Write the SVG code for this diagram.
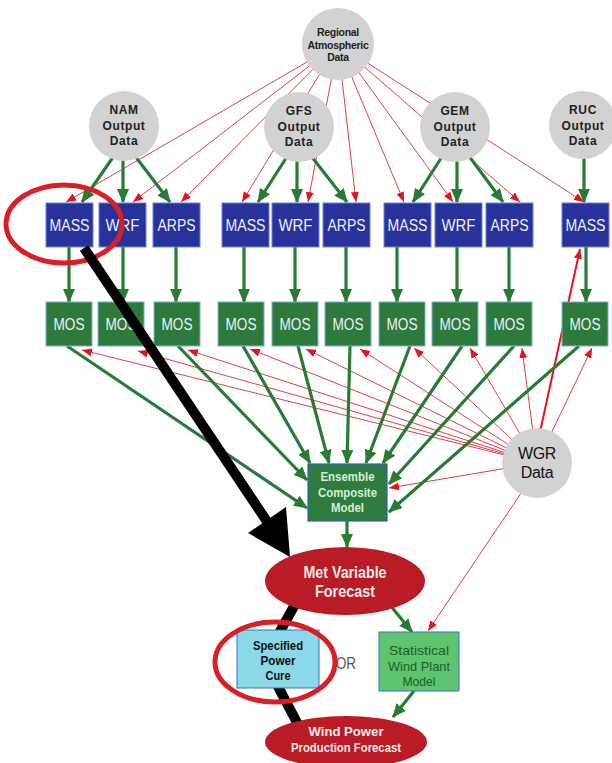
<svg xmlns="http://www.w3.org/2000/svg" width="612" height="763" viewBox="0 0 612 763">
<style>
.g{stroke:#2a7a35;stroke-width:3.2;fill:none;marker-end:url(#ga)}
.r{stroke:#e0404a;stroke-width:1;fill:none;marker-end:url(#ra)}
.circ{fill:#d2d2d2}
.blue{fill:#27339b;stroke:#6a80d8;stroke-width:1}
.mos{fill:#2d7a3c;stroke:#7ab0d0;stroke-width:1}
.bt{font-family:"Liberation Sans",Arial,sans-serif;font-size:17px;fill:#eef0f8;text-anchor:middle}
.bb{font-size:16px}
.ct{font-family:"Liberation Sans",Arial,sans-serif;font-size:12px;font-weight:bold;fill:#222;text-anchor:middle}
.rt{font-family:"Liberation Sans",Arial,sans-serif;font-size:10.5px;font-weight:bold;fill:#222;text-anchor:middle}
.wt{font-family:"Liberation Sans",Arial,sans-serif;font-size:16px;fill:#111;text-anchor:middle}
.et{font-family:"Liberation Sans",Arial,sans-serif;font-size:12.5px;font-weight:bold;fill:#d8ecd8;text-anchor:middle}
.mt{font-family:"Liberation Sans",Arial,sans-serif;font-weight:bold;fill:#f8eaea;text-anchor:middle}
.st{font-family:"Liberation Sans",Arial,sans-serif;font-size:13px;font-weight:bold;fill:#111;text-anchor:middle}
.gt{font-family:"Liberation Sans",Arial,sans-serif;font-size:13px;fill:#1d5e2a;text-anchor:middle}
.ann{fill:none;stroke:#d91e26;stroke-width:5}
</style>
<defs>
<marker id="ga" viewBox="0 0 14 12" refX="13" refY="6" markerWidth="14" markerHeight="12" markerUnits="userSpaceOnUse" orient="auto"><path d="M0,0 L14,6 L0,12 z" fill="#2a7a35"/></marker>
<marker id="ra" viewBox="0 0 10 8" refX="10" refY="4" markerWidth="10" markerHeight="8" markerUnits="userSpaceOnUse" orient="auto"><path d="M0,0 L10,4 L0,8 z" fill="#e8121a"/></marker>
</defs>
<rect width="612" height="763" fill="#ffffff"/>
<g id="connectors">
<line class="r" x1="338" y1="44" x2="66" y2="202"/>
<line class="r" x1="338" y1="44" x2="133" y2="202"/>
<line class="r" x1="338" y1="44" x2="181" y2="202"/>
<line class="r" x1="338" y1="44" x2="242" y2="202"/>
<line class="r" x1="338" y1="44" x2="308" y2="202"/>
<line class="r" x1="338" y1="44" x2="356" y2="202"/>
<line class="r" x1="338" y1="44" x2="404" y2="202"/>
<line class="r" x1="338" y1="44" x2="453" y2="202"/>
<line class="r" x1="338" y1="44" x2="520" y2="202"/>
<line class="r" x1="338" y1="44" x2="584" y2="202"/>
<line class="g" x1="118" y1="150" x2="82" y2="202"/>
<line class="g" x1="123" y1="155" x2="123" y2="202"/>
<line class="g" x1="132" y1="152" x2="170" y2="202"/>
<line class="g" x1="290" y1="152" x2="258" y2="202"/>
<line class="g" x1="297" y1="155" x2="297" y2="202"/>
<line class="g" x1="308" y1="152" x2="347" y2="202"/>
<line class="g" x1="445" y1="152" x2="413" y2="202"/>
<line class="g" x1="457" y1="156" x2="457" y2="202"/>
<line class="g" x1="466" y1="152" x2="503" y2="202"/>
<line class="g" x1="584" y1="152" x2="584" y2="202"/>
<line class="g" x1="69" y1="247" x2="69" y2="302"/>
<line class="g" x1="123" y1="247" x2="123" y2="302"/>
<line class="g" x1="176" y1="247" x2="176" y2="302"/>
<line class="g" x1="244" y1="247" x2="244" y2="302"/>
<line class="g" x1="295" y1="247" x2="295" y2="302"/>
<line class="g" x1="346" y1="247" x2="346" y2="302"/>
<line class="g" x1="397" y1="247" x2="397" y2="302"/>
<line class="g" x1="457" y1="247" x2="457" y2="302"/>
<line class="g" x1="509" y1="247" x2="509" y2="302"/>
<line class="g" x1="586" y1="247" x2="586" y2="302"/>
<line class="r" x1="537" y1="463" x2="82" y2="350"/>
<line class="r" x1="537" y1="463" x2="138" y2="351"/>
<line class="r" x1="537" y1="463" x2="188" y2="350"/>
<line class="r" x1="537" y1="463" x2="250" y2="349"/>
<line class="r" x1="537" y1="463" x2="306" y2="349"/>
<line class="r" x1="537" y1="463" x2="360" y2="349"/>
<line class="r" x1="537" y1="463" x2="414" y2="348"/>
<line class="r" x1="537" y1="463" x2="470" y2="348"/>
<line class="r" x1="537" y1="463" x2="522" y2="348"/>
<line class="r" x1="537" y1="463" x2="592" y2="348"/>
<line class="r" x1="537" y1="463" x2="389" y2="488"/>
<line class="r" x1="530" y1="480" x2="428" y2="631"/>
<line class="r" style="stroke-width:2;stroke:#e8121a" x1="540" y1="432" x2="580" y2="249"/>
<line class="g" x1="67" y1="346" x2="307" y2="508"/>
<line class="g" x1="178" y1="346" x2="307" y2="480"/>
<line class="g" x1="243" y1="346" x2="310" y2="463"/>
<line class="g" x1="298" y1="346" x2="329" y2="463"/>
<line class="g" x1="350" y1="346" x2="347" y2="463"/>
<line class="g" x1="410" y1="346" x2="366" y2="463"/>
<line class="g" x1="462" y1="346" x2="383" y2="463"/>
<line class="g" x1="514" y1="346" x2="389" y2="484"/>
<line class="g" x1="579" y1="346" x2="389" y2="512"/>
<line class="g" x1="347" y1="521" x2="347" y2="547"/>
<line class="g" x1="390" y1="605" x2="412" y2="632"/>
<line class="g" x1="414" y1="691" x2="393" y2="717"/>
</g>
<g id="black-under">
<polyline points="302,592 264,660 302,732" fill="none" stroke="#000" stroke-width="10"/>
</g>
<g id="regional"><circle class="circ" cx="338" cy="44" r="36"/>
<text class="rt" x="338" y="36" letter-spacing="-0.3">Regional</text>
<text class="rt" x="338" y="49" letter-spacing="-0.3">Atmospheric</text>
<text class="rt" x="338" y="61" letter-spacing="-0.3">Data</text></g>
<g id="nam"><circle class="circ" cx="124" cy="126" r="35"/>
<text class="ct" x="124" y="114" letter-spacing="0.6">NAM</text>
<text class="ct" x="124" y="130" letter-spacing="0.6">Output</text>
<text class="ct" x="124" y="145" letter-spacing="0.6">Data</text></g>
<g id="gfs"><circle class="circ" cx="299" cy="127" r="35"/>
<text class="ct" x="299" y="115" letter-spacing="0.6">GFS</text>
<text class="ct" x="299" y="131" letter-spacing="0.6">Output</text>
<text class="ct" x="299" y="146" letter-spacing="0.6">Data</text></g>
<g id="gem"><circle class="circ" cx="455" cy="127" r="35"/>
<text class="ct" x="455" y="115" letter-spacing="0.6">GEM</text>
<text class="ct" x="455" y="131" letter-spacing="0.6">Output</text>
<text class="ct" x="455" y="146" letter-spacing="0.6">Data</text></g>
<g id="ruc"><circle class="circ" cx="583" cy="125" r="34"/>
<text class="ct" x="583" y="114" letter-spacing="0.6">RUC</text>
<text class="ct" x="583" y="130" letter-spacing="0.6">Output</text>
<text class="ct" x="583" y="145" letter-spacing="0.6">Data</text></g>
<g id="model-boxes">
<g id="mass1"><rect class="blue" x="46" y="203" width="47" height="44"/><text class="bt bb" x="69.5" y="231" textLength="40" lengthAdjust="spacingAndGlyphs">MASS</text></g>
<g id="wrf1"><rect class="blue" x="99" y="203" width="47" height="44"/><text class="bt bb" x="122.5" y="231" textLength="34" lengthAdjust="spacingAndGlyphs">WRF</text></g>
<g id="arps1"><rect class="blue" x="153" y="203" width="47" height="44"/><text class="bt bb" x="176.5" y="231" textLength="38" lengthAdjust="spacingAndGlyphs">ARPS</text></g>
<g id="mass2"><rect class="blue" x="222" y="203" width="47" height="44"/><text class="bt bb" x="245.5" y="231" textLength="40" lengthAdjust="spacingAndGlyphs">MASS</text></g>
<g id="wrf2"><rect class="blue" x="272" y="203" width="47" height="44"/><text class="bt bb" x="295.5" y="231" textLength="34" lengthAdjust="spacingAndGlyphs">WRF</text></g>
<g id="arps2"><rect class="blue" x="323" y="203" width="47" height="44"/><text class="bt bb" x="346.5" y="231" textLength="38" lengthAdjust="spacingAndGlyphs">ARPS</text></g>
<g id="mass3"><rect class="blue" x="384" y="203" width="47" height="44"/><text class="bt bb" x="407.5" y="231" textLength="40" lengthAdjust="spacingAndGlyphs">MASS</text></g>
<g id="wrf3"><rect class="blue" x="435" y="203" width="47" height="44"/><text class="bt bb" x="458.5" y="231" textLength="34" lengthAdjust="spacingAndGlyphs">WRF</text></g>
<g id="arps3"><rect class="blue" x="486" y="203" width="47" height="44"/><text class="bt bb" x="509.5" y="231" textLength="38" lengthAdjust="spacingAndGlyphs">ARPS</text></g>
<g id="mass4"><rect class="blue" x="562" y="203" width="47" height="44"/><text class="bt bb" x="585.5" y="231" textLength="40" lengthAdjust="spacingAndGlyphs">MASS</text></g>
</g>
<g id="mos-boxes">
<g id="mos1"><rect class="mos" x="46" y="302" width="46" height="44"/><text class="bt" x="69" y="330" textLength="31" lengthAdjust="spacingAndGlyphs">MOS</text></g>
<g id="mos2"><rect class="mos" x="98" y="302" width="46" height="44"/><text class="bt" x="121" y="330" textLength="31" lengthAdjust="spacingAndGlyphs">MOS</text></g>
<g id="mos3"><rect class="mos" x="154" y="302" width="46" height="44"/><text class="bt" x="177" y="330" textLength="31" lengthAdjust="spacingAndGlyphs">MOS</text></g>
<g id="mos4"><rect class="mos" x="218" y="302" width="46" height="44"/><text class="bt" x="241" y="330" textLength="31" lengthAdjust="spacingAndGlyphs">MOS</text></g>
<g id="mos5"><rect class="mos" x="272" y="302" width="46" height="44"/><text class="bt" x="295" y="330" textLength="31" lengthAdjust="spacingAndGlyphs">MOS</text></g>
<g id="mos6"><rect class="mos" x="325" y="302" width="46" height="44"/><text class="bt" x="348" y="330" textLength="31" lengthAdjust="spacingAndGlyphs">MOS</text></g>
<g id="mos7"><rect class="mos" x="379" y="302" width="46" height="44"/><text class="bt" x="402" y="330" textLength="31" lengthAdjust="spacingAndGlyphs">MOS</text></g>
<g id="mos8"><rect class="mos" x="432" y="302" width="46" height="44"/><text class="bt" x="455" y="330" textLength="31" lengthAdjust="spacingAndGlyphs">MOS</text></g>
<g id="mos9"><rect class="mos" x="486" y="302" width="46" height="44"/><text class="bt" x="509" y="330" textLength="31" lengthAdjust="spacingAndGlyphs">MOS</text></g>
<g id="mos10"><rect class="mos" x="562" y="302" width="46" height="44"/><text class="bt" x="585" y="330" textLength="31" lengthAdjust="spacingAndGlyphs">MOS</text></g>
</g>
<g id="wgr"><circle class="circ" cx="537" cy="463" r="35"/>
<text class="wt" x="537" y="459" letter-spacing="-0.3">WGR</text>
<text class="wt" x="537" y="478" letter-spacing="-0.3">Data</text></g>
<g id="ensemble"><rect x="308" y="464" width="79" height="57" fill="#2e7d3e" stroke="#3060c0" stroke-width="1.2"/>
<text class="et" x="347.5" y="481" textLength="54" lengthAdjust="spacingAndGlyphs">Ensemble</text>
<text class="et" x="347.5" y="497" textLength="59" lengthAdjust="spacingAndGlyphs">Composite</text>
<text class="et" x="347.5" y="512" textLength="33" lengthAdjust="spacingAndGlyphs">Model</text></g>
<g id="met"><ellipse cx="345" cy="581" rx="80" ry="34" fill="#b91c24"/>
<text class="mt" x="345" y="578" font-size="16" textLength="83" lengthAdjust="spacingAndGlyphs">Met Variable</text>
<text class="mt" x="345" y="597" font-size="16" textLength="60" lengthAdjust="spacingAndGlyphs">Forecast</text></g>
<g id="specified"><rect x="237" y="630" width="82" height="58" fill="#8ad8e8" stroke="#3a70c8" stroke-width="1"/>
<text class="st" x="278" y="650" textLength="50" lengthAdjust="spacingAndGlyphs">Specified</text>
<text class="st" x="278" y="665" textLength="35" lengthAdjust="spacingAndGlyphs">Power</text>
<text class="st" x="278" y="680" textLength="25" lengthAdjust="spacingAndGlyphs">Cure</text></g>
<g id="or"><text x="336" y="669" font-family="Liberation Sans, Arial, sans-serif" font-size="16" fill="#555" textLength="20" lengthAdjust="spacingAndGlyphs">OR</text></g>
<g id="statistical"><rect x="379" y="632" width="80" height="59" fill="#5ec46e" stroke="#3a70c8" stroke-width="1"/>
<text class="gt" x="419" y="655" textLength="60" lengthAdjust="spacingAndGlyphs">Statistical</text>
<text class="gt" x="419" y="671" textLength="62" lengthAdjust="spacingAndGlyphs">Wind Plant</text>
<text class="gt" x="419" y="686" textLength="33" lengthAdjust="spacingAndGlyphs">Model</text></g>
<g id="windpower"><ellipse cx="346" cy="742" rx="81" ry="26" fill="#b91c24"/>
<text class="mt" x="346" y="736" font-size="13" textLength="75" lengthAdjust="spacingAndGlyphs">Wind Power</text>
<text class="mt" x="346" y="752" font-size="13" textLength="110" lengthAdjust="spacingAndGlyphs">Production Forecast</text></g>
<g id="annotations">
<ellipse class="ann" cx="64" cy="224" rx="58" ry="39"/>
<line x1="84" y1="248" x2="272" y2="529" stroke="#000" stroke-width="10"/>
<polygon points="290,557 248,533 286,507" fill="#000"/>
<ellipse class="ann" cx="275" cy="662" rx="60" ry="40"/>
</g>
</svg>
